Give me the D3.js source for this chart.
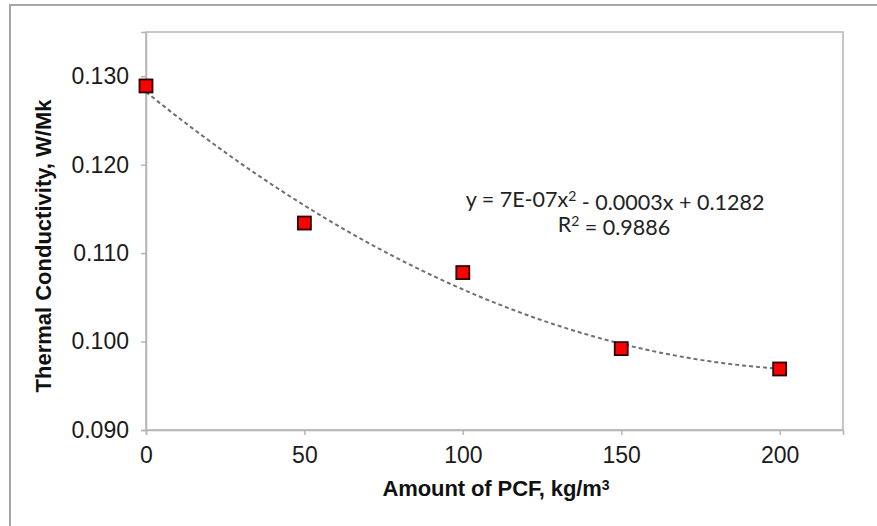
<!DOCTYPE html>
<html>
<head>
<meta charset="utf-8">
<script src="https://cdn.jsdelivr.net/npm/d3@7"></script>
<style>
  body { margin: 0; background: #fff; }
  svg { display: block; }
</style>
</head>
<body>
<svg id="chart"></svg>
<script>
// data
const pcfAmount = [0, 50, 100, 150, 200];
const conductivity = [0.1289, 0.1134, 0.1078, 0.0992, 0.0969];
const xTicks = [0, 50, 100, 150, 200];
const yTicks = [0.090, 0.100, 0.110, 0.120, 0.130];
const equationLabel = ["y = 7E-07x", "2", " - 0.0003x + 0.1282"];
const rSquaredLabel = ["R", "2", " = 0.9886"];

const width = 877, height = 526;
const margin = { top: 32, right: 34, bottom: 96, left: 146 };

const svg = d3.select("#chart")
  .attr("width", width)
  .attr("height", height);

// outer chart frame (runs off the right and bottom edges)
svg.append("rect")
  .attr("x", 10).attr("y", 5)
  .attr("width", width).attr("height", height)
  .attr("fill", "none")
  .attr("stroke", "#a6a6a6")
  .attr("stroke-width", 2);

const x = d3.scaleLinear().domain([0, 220]).range([margin.left, width - margin.right]);
const y = d3.scaleLinear().domain([0.09, 0.135]).range([height - margin.bottom, margin.top]);

// plot area frame
svg.append("rect")
  .attr("x", x(0)).attr("y", y(0.135))
  .attr("width", x(220) - x(0)).attr("height", y(0.09) - y(0.135))
  .attr("fill", "none")
  .attr("stroke", "#b5b5b5")
  .attr("stroke-width", 1.5);

// axes
const xAxis = svg.append("g")
  .attr("transform", `translate(0,${y(0.09)})`)
  .call(d3.axisBottom(x).tickValues(xTicks).tickSize(5).tickPadding(12).tickFormat(d3.format("d")));

const yAxis = svg.append("g")
  .attr("transform", `translate(${x(0)},0)`)
  .call(d3.axisLeft(y).tickValues(yTicks).tickSize(5).tickPadding(12).tickFormat(d3.format(".3f")));

[xAxis, yAxis].forEach(ax => {
  ax.select(".domain").attr("stroke", "#b5b5b5").attr("stroke-width", 1.5);
  ax.selectAll(".tick line").attr("stroke", "#b5b5b5").attr("stroke-width", 1.5);
  ax.selectAll(".tick text")
    .attr("fill", "#1a1a1a")
    .style("font-family", "'Liberation Sans', Arial, sans-serif")
    .style("font-size", "23px");
});

// polynomial trendline, order 2, least squares on the points
function fitQuadratic(xs, ys) {
  let s = [0, 0, 0, 0, 0], t = [0, 0, 0];
  xs.forEach((xv, i) => {
    for (let k = 0; k < 5; k++) s[k] += Math.pow(xv, k);
    for (let k = 0; k < 3; k++) t[k] += ys[i] * Math.pow(xv, k);
  });
  // solve normal equations (3x3) by Cramer's rule
  const M = [[s[0], s[1], s[2]], [s[1], s[2], s[3]], [s[2], s[3], s[4]]];
  const det = m => m[0][0] * (m[1][1] * m[2][2] - m[1][2] * m[2][1])
    - m[0][1] * (m[1][0] * m[2][2] - m[1][2] * m[2][0])
    + m[0][2] * (m[1][0] * m[2][1] - m[1][1] * m[2][0]);
  const D = det(M);
  const coef = [0, 1, 2].map(c => det(M.map((row, r) => row.map((v, j) => j === c ? t[r] : v))) / D);
  return xv => coef[0] + coef[1] * xv + coef[2] * xv * xv;
}
const trend = fitQuadratic(pcfAmount, conductivity);
const trendX = d3.range(0, 200.01, 2);

svg.append("path")
  .datum(trendX)
  .attr("fill", "none")
  .attr("stroke", "#6f6f6f")
  .attr("stroke-width", 2)
  .attr("stroke-dasharray", "4,3")
  .attr("d", d3.line().x(d => x(d)).y(d => y(trend(d))));

// markers
const size = 13;
svg.selectAll("rect.pt")
  .data(pcfAmount)
  .enter()
  .append("rect")
  .attr("class", "pt")
  .attr("x", d => x(d) - size / 2)
  .attr("y", (d, i) => y(conductivity[i]) - size / 2)
  .attr("width", size).attr("height", size)
  .attr("fill", "#ff0000")
  .attr("stroke", "#2a0000")
  .attr("stroke-width", 1.8);

// trendline label
function labelLine(parts, cx, baseY) {
  const t = svg.append("text")
    .attr("x", cx).attr("y", baseY)
    .attr("text-anchor", "middle")
    .attr("fill", "#222")
    .style("font-family", "Lato, 'Open Sans', sans-serif")
    .style("font-size", "21.5px");
  parts.forEach((p, i) => {
    const ts = t.append("tspan").text(p);
    if (i === 1) ts.attr("dy", "-0.4em").style("font-size", "14px");
    if (i === 2) ts.attr("dy", "0.4em");
  });
  return t;
}
labelLine(equationLabel, 615, 207);
labelLine(rSquaredLabel, 614, 232);

// axis titles
svg.append("text")
  .attr("transform", "translate(51,246) rotate(-90)")
  .attr("text-anchor", "middle")
  .attr("fill", "#111")
  .style("font-family", "'Liberation Sans', Arial, sans-serif")
  .style("font-weight", "bold")
  .style("font-size", "22px")
  .text("Thermal Conductivity, W/Mk");

const xt = svg.append("text")
  .attr("x", 496).attr("y", 496)
  .attr("text-anchor", "middle")
  .attr("fill", "#111")
  .style("font-family", "'Liberation Sans', Arial, sans-serif")
  .style("font-weight", "bold")
  .style("font-size", "22px")
  .style("letter-spacing", "-0.1px");
xt.append("tspan").text("Amount of PCF, kg/m");
xt.append("tspan").attr("dy", "-0.45em").style("font-size", "14px").text("3");
</script>
</body>
</html>
